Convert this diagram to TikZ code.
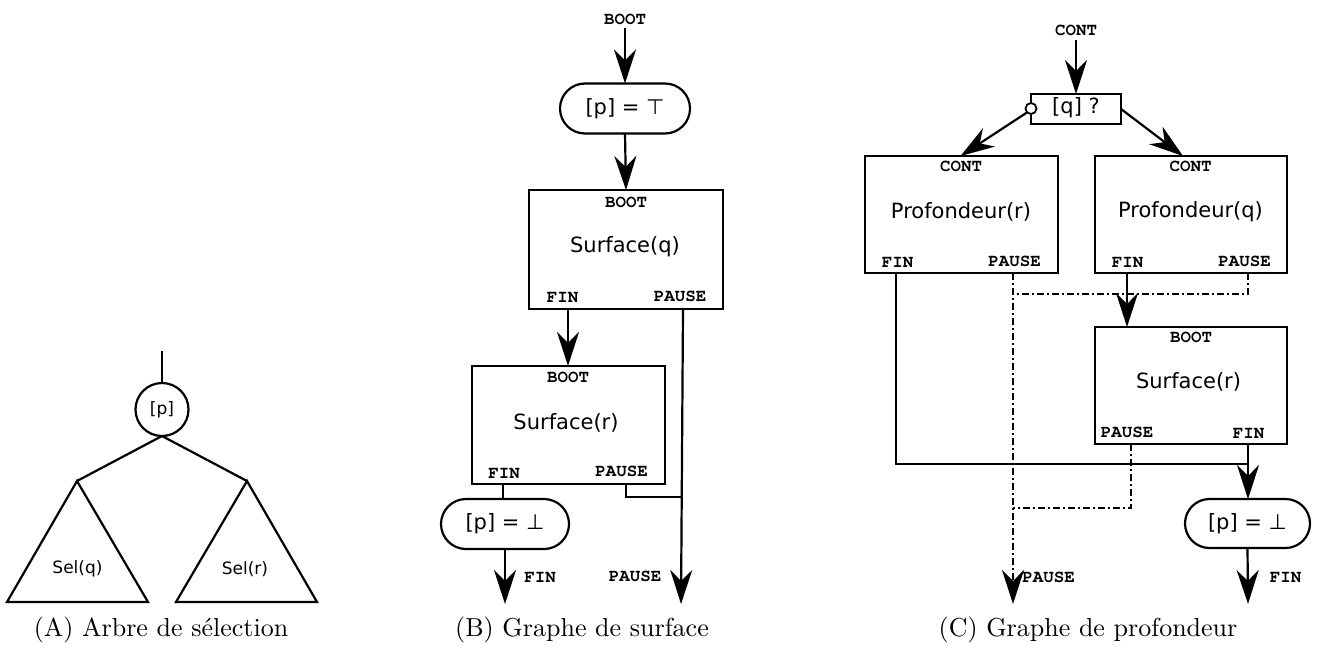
\documentclass[tikz,border=0pt]{standalone}
\usepackage{fontspec}
\usetikzlibrary{arrows.meta,shapes.misc}
\newfontfamily\dvsans{DejaVu Sans}
\newfontfamily\cmono{texgyrecursor-bold.otf}
\newfontfamily\capfont{lmroman10-regular.otf}
\begin{document}
\begin{tikzpicture}[x=1pt,y=-1pt,
  every node/.style={inner sep=0pt,outer sep=0pt},
  ln/.style={line width=2.2pt},
  dd/.style={line width=2pt,dash pattern=on 7pt off 3pt on 2pt off 3pt},
  arr/.style={-{Stealth[length=34pt,width=22pt,inset=11pt]}},
  blk/.style={draw,line width=2.2pt,rectangle,minimum width=193pt,minimum height=117pt},
  pill/.style={draw,line width=2.2pt,rounded rectangle,minimum height=50pt,font=\dvsans\fontsize{21}{25}\selectfont},
  port/.style={font=\cmono\fontsize{17.5}{19}\selectfont},
  title/.style={font=\dvsans\fontsize{21}{25}\selectfont},
  small/.style={font=\dvsans\fontsize{17}{20}\selectfont},
  caption/.style={anchor=base,font=\capfont\fontsize{26}{30}\selectfont}]
\useasboundingbox (0,0) rectangle (1319,648);

% ---------- (A) selection tree ----------
\coordinate (aTop) at (162,351);
\node[circle,draw,line width=2.2pt,minimum size=53pt,small] (root) at (162,409.5) {[p]};
\coordinate (apL) at (77,481);
\coordinate (apR) at (247,481);
\coordinate (blL) at (7,602);  \coordinate (brL) at (148,602);
\coordinate (blR) at (176,602); \coordinate (brR) at (317,602);
\draw[ln] (aTop) -- (root.north);
\draw[ln] (root.south) -- (apL);
\draw[ln] (root.south) -- (apR);
\draw[ln,line join=miter] (apL) -- (blL) -- (brL) -- cycle;
\draw[ln,line join=miter] (apR) -- (blR) -- (brR) -- cycle;
\node[small] (selq) at (77.5,569) {Sel(q)};
\node[small] (selr) at (245,569) {Sel(r)};
\node[caption] (capA) at (161,636.5) {(A) Arbre de sélection};

% ---------- (B) surface graph ----------
\node[port] (bBoot) at (625,19) {BOOT};
\coordinate (bIn) at (625,28);
\node[pill,minimum width=130pt] (pTop) at (625,108.5) {[p] = ⊤};
\node[blk,minimum width=194pt,minimum height=119pt] (sq) at (626,249.5) {};
\node[port] (sqBoot) at (626,202) {BOOT};
\node[title] (sqT) at (625,247) {Surface(q)};
\node[port] (sqFin) at (562.5,297) {FIN};
\node[port] (sqPause) at (680,296) {PAUSE};
\coordinate (sqF) at (568,309);
\coordinate (sqP) at (683,309);

\node[blk,minimum width=193pt,minimum height=118pt] (sr) at (568.5,425) {};
\node[port] (srBoot) at (568,377.5) {BOOT};
\node[title] (srT) at (566,423) {Surface(r)};
\node[port] (srFin) at (504,473) {FIN};
\node[port] (srPause) at (621.5,471.5) {PAUSE};
\coordinate (srF) at (503,484);
\coordinate (srP) at (626,484);
\coordinate (srPk) at (626,497);
\coordinate (bJoin) at (682,497);

\node[pill,minimum width=128pt] (pBot) at (505,524) {[p] = ⊥};
\coordinate (bFinOut) at (505,604);
\coordinate (bPauseOut) at (681,604);
\node[port] (bFinL) at (540,577) {FIN};
\node[port] (bPauseL) at (635,576) {PAUSE};

\draw[ln,arr] (bIn) -- (pTop.north);
\draw[ln,arr] (pTop.south) -- (sq.north);
\draw[ln,arr] (sqF) -- (sqF |- sr.north);
\draw[ln,arr] (sqP) -- (bPauseOut);
\draw[ln] (srF) -- (srF |- pBot.north);
\draw[ln] (srP) -- (srPk) -- (bJoin);
\draw[ln,arr] (pBot.south) -- (bFinOut);
\node[caption] (capB) at (582,636.5) {(B) Graphe de surface};

% ---------- (C) depth graph ----------
\node[port] (cCont) at (1076,30) {CONT};
\coordinate (cIn) at (1076,40);
\node[draw,line width=2.2pt,minimum width=90pt,minimum height=30pt] (qt) at (1076,109) {};
\node[title] (qtT) at (1076,108) {[q] ?};
\node[circle,draw,fill=white,line width=1.8pt,minimum size=11pt] (neg) at (1031,108.5) {};

\node[blk] (pr) at (961.5,214.5) {};
\node[port] (prCont) at (961,166) {CONT};
\node[title] (prT) at (961,212) {Profondeur(r)};
\node[port] (prFin) at (897.5,262) {FIN};
\node[port] (prPause) at (1014.5,261) {PAUSE};
\coordinate (prF) at (896,273);
\coordinate (prP) at (1013,273);

\node[blk,minimum width=192pt] (pq) at (1191,214.5) {};
\node[port] (pqCont) at (1190.5,166) {CONT};
\node[title] (pqT) at (1190.5,212) {Profondeur(q)};
\node[port] (pqFin) at (1127.5,262) {FIN};
\node[port] (pqPause) at (1244.5,261) {PAUSE};
\coordinate (pqF) at (1127,273);
\coordinate (pqP) at (1248,273);
\coordinate (pqPk) at (1248,293.5);

\node[blk,minimum width=192pt] (sr2) at (1191,385.5) {};
\node[port] (sr2Boot) at (1191,337) {BOOT};
\node[title] (sr2T) at (1188.5,382) {Surface(r)};
\node[port] (sr2Pause) at (1127,432) {PAUSE};
\node[port] (sr2Fin) at (1248.5,433) {FIN};
\coordinate (sr2F) at (1248,444);
\coordinate (sr2P) at (1131,444);
\coordinate (sr2Pk) at (1131,507.5);

\coordinate (prFk) at (896,464);
\node[pill,minimum width=125pt,minimum height=49pt] (pBot2) at (1247.5,523.5) {[p] = ⊥};
\coordinate (cFinOut) at (1248,604);
\coordinate (cPauseOut) at (1013,604);
\node[port] (cFinL) at (1285.5,577) {FIN};
\node[port] (cPauseL) at (1048.5,577) {PAUSE};

\draw[ln,arr] (cIn) -- (qt.north);
\draw[ln,arr] (neg.south west) -- ([xshift=-1pt]pr.north);
\draw[ln,arr] (qt.east) -- ([xshift=-8pt]pq.north);
\draw[ln] (prF) -- (prFk) -- (prFk -| sr2F);
\draw[ln,arr] (pqF) -- (pqF |- sr2.north);
\draw[ln,arr] (sr2F) -- (sr2F |- pBot2.north);
\draw[ln,arr] (pBot2.south) -- (cFinOut);
\draw[dd] (pqP) -- (pqPk) -- (pqPk -| prP);
\draw[dd] (sr2P) -- (sr2Pk) -- (sr2Pk -| prP);
\draw[dd,arr] (prP) -- (cPauseOut);
\node[caption] (capC) at (1088,636.5) {(C) Graphe de profondeur};
\end{tikzpicture}
\end{document}
